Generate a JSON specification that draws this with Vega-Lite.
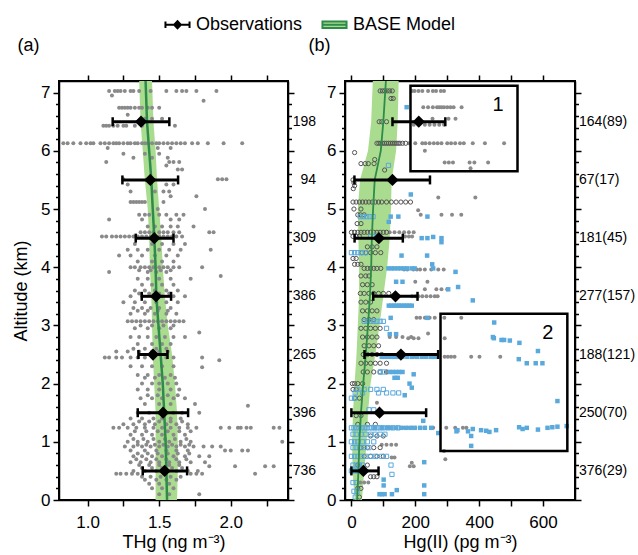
{
"$schema":"https://vega.github.io/schema/vega-lite/v6.json",
"padding":{"left":11,"top":11,"right":4,"bottom":2},
"spacing":-10,
"config":{"font":"Liberation Sans","view":{"stroke":"black","strokeWidth":2},
"axis":{"domainColor":"black","domainWidth":1.5,"tickColor":"black","tickWidth":1.5,"labelColor":"black","titleColor":"black","labelFontSize":17,"titleFontSize":18,"titleFontWeight":"normal","grid":false},
"title":{"anchor":"start","frame":"bounds","fontSize":18,"fontWeight":"normal","offset":19}},
"datasets":{
"modelA":[{"alt":0,"lo":1.475,"hi":1.625,"mid":1.555},{"alt":0.5,"lo":1.475,"hi":1.63,"mid":1.55},{"alt":1,"lo":1.475,"hi":1.63,"mid":1.545},{"alt":1.5,"lo":1.475,"hi":1.625,"mid":1.535},{"alt":2,"lo":1.465,"hi":1.61,"mid":1.525},{"alt":2.5,"lo":1.455,"hi":1.59,"mid":1.51},{"alt":3,"lo":1.45,"hi":1.56,"mid":1.495},{"alt":3.5,"lo":1.445,"hi":1.54,"mid":1.48},{"alt":4,"lo":1.435,"hi":1.525,"mid":1.475},{"alt":4.5,"lo":1.43,"hi":1.515,"mid":1.466},{"alt":5,"lo":1.42,"hi":1.5,"mid":1.455},{"alt":5.5,"lo":1.4,"hi":1.485,"mid":1.445},{"alt":6,"lo":1.385,"hi":1.475,"mid":1.43},{"alt":6.5,"lo":1.37,"hi":1.46,"mid":1.415},{"alt":7.2,"lo":1.36,"hi":1.45,"mid":1.405}],
"modelB":[{"alt":0,"lo":10,"hi":33,"mid":18},{"alt":0.5,"lo":4,"hi":40,"mid":22},{"alt":1,"lo":2,"hi":48,"mid":25},{"alt":1.5,"lo":5,"hi":52,"mid":30},{"alt":2,"lo":10,"hi":60,"mid":37},{"alt":2.5,"lo":16,"hi":75,"mid":45},{"alt":3,"lo":20,"hi":88,"mid":52},{"alt":3.5,"lo":24,"hi":100,"mid":58},{"alt":4,"lo":24,"hi":112,"mid":62},{"alt":4.5,"lo":22,"hi":120,"mid":64},{"alt":5,"lo":20,"hi":124,"mid":68},{"alt":5.5,"lo":27,"hi":126,"mid":73},{"alt":6,"lo":52,"hi":140,"mid":92},{"alt":6.5,"lo":62,"hi":145,"mid":100},{"alt":7.2,"lo":67,"hi":148,"mid":108}],
"obsA":[{"alt":6.5,"mean":1.373,"lo":1.175,"hi":1.571,"n":"198"},{"alt":5.5,"mean":1.438,"lo":1.243,"hi":1.632,"n":"94"},{"alt":4.5,"mean":1.466,"lo":1.336,"hi":1.6,"n":"309"},{"alt":3.5,"mean":1.478,"lo":1.378,"hi":1.583,"n":"386"},{"alt":2.5,"mean":1.457,"lo":1.355,"hi":1.558,"n":"265"},{"alt":1.5,"mean":1.527,"lo":1.35,"hi":1.702,"n":"396"},{"alt":0.5,"mean":1.538,"lo":1.385,"hi":1.695,"n":"736"}],
"obsB":[{"alt":6.5,"mean":211,"lo":128.6,"hi":294,"n":"164(89)"},{"alt":5.5,"mean":128.6,"lo":9.5,"hi":246,"n":"67(17)"},{"alt":4.5,"mean":86,"lo":10,"hi":161,"n":"181(45)"},{"alt":3.5,"mean":138,"lo":68.5,"hi":207,"n":"277(157)"},{"alt":2.5,"mean":155,"lo":41,"hi":271.6,"n":"188(121)"},{"alt":1.5,"mean":88,"lo":0,"hi":234,"n":"250(70)"},{"alt":0.5,"mean":37.5,"lo":0,"hi":85,"n":"376(29)"}],
"boxes":[{"x1":185,"x2":520,"y1":5.65,"y2":7.12,"label":"1"},{"x1":279,"x2":676,"y1":0.84,"y2":3.2,"label":"2"}],
"pa":[
{"x":1.15,"y":7.03},{"x":1.19,"y":7.03},{"x":1.21,"y":7.03},{"x":1.23,"y":7.03},{"x":1.26,"y":7.03},{"x":1.3,"y":7.03},{"x":1.32,"y":7.03},{"x":1.36,"y":7.03},{"x":1.44,"y":7.03},{"x":1.55,"y":7.03},{"x":1.62,"y":7.03},{"x":1.66,"y":7.03},{"x":1.69,"y":7.03},{"x":1.76,"y":7.03},{"x":1.9,"y":7.03},
{"x":1.17,"y":6.95},{"x":1.81,"y":6.86},
{"x":1.22,"y":6.74},{"x":1.24,"y":6.74},{"x":1.26,"y":6.74},{"x":1.28,"y":6.74},{"x":1.3,"y":6.74},{"x":1.33,"y":6.74},{"x":1.36,"y":6.74},{"x":1.38,"y":6.74},{"x":1.42,"y":6.74},{"x":1.45,"y":6.74},{"x":1.5,"y":6.74},
{"x":1.28,"y":6.62},{"x":1.4,"y":6.55},{"x":1.45,"y":6.55},{"x":1.52,"y":6.55},
{"x":1.11,"y":6.43},{"x":1.13,"y":6.43},{"x":1.15,"y":6.43},{"x":1.18,"y":6.43},{"x":1.21,"y":6.43},{"x":1.25,"y":6.43},{"x":1.27,"y":6.43},{"x":1.33,"y":6.43},{"x":1.38,"y":6.43},{"x":1.61,"y":6.43},
{"x":0.83,"y":6.13},{"x":0.86,"y":6.13},{"x":0.9,"y":6.13},{"x":0.95,"y":6.13},{"x":0.99,"y":6.13},{"x":1.02,"y":6.13},{"x":1.04,"y":6.13},{"x":1.09,"y":6.13},{"x":1.12,"y":6.13},{"x":1.15,"y":6.13},{"x":1.18,"y":6.13},{"x":1.2,"y":6.13},{"x":1.22,"y":6.13},{"x":1.25,"y":6.13},{"x":1.28,"y":6.13},{"x":1.3,"y":6.13},{"x":1.33,"y":6.13},{"x":1.35,"y":6.13},{"x":1.38,"y":6.13},{"x":1.4,"y":6.13},{"x":1.42,"y":6.13},{"x":1.45,"y":6.13},{"x":1.48,"y":6.13},{"x":1.5,"y":6.13},{"x":1.53,"y":6.13},{"x":1.56,"y":6.13},{"x":1.59,"y":6.13},{"x":1.62,"y":6.13},{"x":1.65,"y":6.13},{"x":1.68,"y":6.13},{"x":1.73,"y":6.13},{"x":1.77,"y":6.13},{"x":1.84,"y":6.13},{"x":1.95,"y":6.13},{"x":2.08,"y":6.13},
{"x":1.14,"y":6.05},{"x":1.49,"y":6.05},{"x":1.58,"y":6.05},{"x":1.25,"y":5.95},{"x":1.4,"y":5.95},{"x":1.5,"y":5.95},{"x":1.32,"y":5.88},{"x":1.45,"y":5.88},{"x":1.56,"y":5.88},
{"x":1.13,"y":5.81},{"x":1.57,"y":5.81},{"x":1.6,"y":5.81},{"x":1.64,"y":5.81},{"x":1.55,"y":5.75},{"x":1.63,"y":5.68},{"x":1.66,"y":5.68},
{"x":1.25,"y":5.51},{"x":1.91,"y":5.51},{"x":1.94,"y":5.51},{"x":1.97,"y":5.51},{"x":1.28,"y":5.42},{"x":1.55,"y":5.42},{"x":1.6,"y":5.42},
{"x":1.3,"y":5.3},{"x":1.47,"y":5.3},{"x":1.53,"y":5.3},{"x":1.57,"y":5.3},{"x":1.58,"y":5.22},{"x":1.76,"y":5.22},
{"x":1.3,"y":5.12},{"x":1.32,"y":5.12},{"x":1.34,"y":5.12},{"x":1.36,"y":5.12},{"x":1.38,"y":5.12},{"x":1.4,"y":5.12},{"x":1.53,"y":5.12},
{"x":1.49,"y":5.0},{"x":1.82,"y":5.0},
{"x":1.36,"y":4.9},{"x":1.4,"y":4.9},{"x":1.43,"y":4.9},{"x":1.5,"y":4.9},{"x":1.55,"y":4.9},{"x":1.62,"y":4.9},{"x":1.67,"y":4.9},
{"x":1.15,"y":4.82},{"x":1.38,"y":4.82},{"x":1.58,"y":4.82},{"x":1.64,"y":4.82},
{"x":1.42,"y":4.7},{"x":1.47,"y":4.7},{"x":1.52,"y":4.7},{"x":1.58,"y":4.7},{"x":1.63,"y":4.7},{"x":1.74,"y":4.7},
{"x":1.37,"y":4.6},{"x":1.4,"y":4.6},{"x":1.43,"y":4.6},{"x":1.46,"y":4.6},{"x":1.5,"y":4.6},{"x":1.53,"y":4.6},{"x":1.56,"y":4.6},{"x":1.6,"y":4.6},{"x":1.64,"y":4.6},{"x":1.85,"y":4.6},{"x":1.88,"y":4.6},
{"x":1.1,"y":4.53},{"x":1.13,"y":4.53},{"x":1.17,"y":4.53},{"x":1.2,"y":4.53},{"x":1.23,"y":4.53},{"x":1.26,"y":4.53},{"x":1.29,"y":4.53},{"x":1.32,"y":4.53},{"x":1.35,"y":4.53},{"x":1.38,"y":4.53},{"x":1.41,"y":4.53},{"x":1.44,"y":4.53},{"x":1.47,"y":4.53},{"x":1.5,"y":4.53},{"x":1.53,"y":4.53},{"x":1.56,"y":4.53},{"x":1.59,"y":4.53},{"x":1.62,"y":4.53},{"x":1.66,"y":4.53},
{"x":1.33,"y":4.4},{"x":1.45,"y":4.4},{"x":1.52,"y":4.4},{"x":1.6,"y":4.4},{"x":1.68,"y":4.4},
{"x":1.28,"y":4.3},{"x":1.35,"y":4.3},{"x":1.42,"y":4.3},{"x":1.5,"y":4.3},{"x":1.57,"y":4.3},{"x":1.65,"y":4.3},{"x":1.86,"y":4.3},
{"x":1.22,"y":4.2},{"x":1.3,"y":4.2},{"x":1.38,"y":4.2},{"x":1.47,"y":4.2},{"x":1.55,"y":4.2},{"x":1.63,"y":4.2},
{"x":1.35,"y":4.1},{"x":1.45,"y":4.1},{"x":1.52,"y":4.1},{"x":1.6,"y":4.1},
{"x":1.3,"y":4.0},{"x":1.33,"y":4.0},{"x":1.37,"y":4.0},{"x":1.4,"y":4.0},{"x":1.43,"y":4.0},{"x":1.46,"y":4.0},{"x":1.5,"y":4.0},{"x":1.53,"y":4.0},{"x":1.56,"y":4.0},{"x":1.6,"y":4.0},{"x":1.64,"y":4.0},{"x":1.8,"y":4.0},
{"x":1.36,"y":3.95},{"x":1.44,"y":3.95},{"x":1.51,"y":3.95},{"x":1.58,"y":3.95},{"x":1.15,"y":3.92},{"x":1.42,"y":3.92},{"x":1.48,"y":3.92},{"x":1.55,"y":3.92},{"x":1.93,"y":3.85},
{"x":1.35,"y":3.8},{"x":1.42,"y":3.8},{"x":1.5,"y":3.8},{"x":1.58,"y":3.8},{"x":1.72,"y":3.8},
{"x":1.38,"y":3.7},{"x":1.45,"y":3.7},{"x":1.52,"y":3.7},{"x":1.6,"y":3.7},
{"x":1.33,"y":3.6},{"x":1.4,"y":3.6},{"x":1.47,"y":3.6},{"x":1.55,"y":3.6},{"x":1.63,"y":3.6},
{"x":1.36,"y":3.55},{"x":1.43,"y":3.55},{"x":1.5,"y":3.55},{"x":1.57,"y":3.55},
{"x":1.3,"y":3.5},{"x":1.38,"y":3.5},{"x":1.52,"y":3.5},{"x":1.6,"y":3.5},{"x":1.68,"y":3.5},
{"x":1.25,"y":3.4},{"x":1.33,"y":3.4},{"x":1.4,"y":3.4},{"x":1.48,"y":3.4},{"x":1.55,"y":3.4},{"x":1.63,"y":3.4},
{"x":1.32,"y":3.3},{"x":1.38,"y":3.3},{"x":1.44,"y":3.3},{"x":1.5,"y":3.3},{"x":1.58,"y":3.3},
{"x":1.35,"y":3.25},{"x":1.42,"y":3.25},{"x":1.49,"y":3.25},{"x":1.56,"y":3.25},
{"x":1.3,"y":3.2},{"x":1.4,"y":3.2},{"x":1.47,"y":3.2},{"x":1.55,"y":3.2},{"x":1.62,"y":3.2},
{"x":1.28,"y":3.07},{"x":1.31,"y":3.07},{"x":1.34,"y":3.07},{"x":1.37,"y":3.07},{"x":1.4,"y":3.07},{"x":1.43,"y":3.07},{"x":1.46,"y":3.07},{"x":1.49,"y":3.07},{"x":1.52,"y":3.07},{"x":1.55,"y":3.07},{"x":1.58,"y":3.07},{"x":1.61,"y":3.07},{"x":1.64,"y":3.07},{"x":1.67,"y":3.07},
{"x":1.37,"y":3.0},{"x":1.45,"y":3.0},{"x":1.53,"y":3.0},{"x":1.6,"y":3.0},
{"x":1.33,"y":2.95},{"x":1.42,"y":2.95},{"x":1.5,"y":2.95},{"x":1.58,"y":2.95},{"x":1.78,"y":2.88},
{"x":1.3,"y":2.8},{"x":1.36,"y":2.8},{"x":1.42,"y":2.8},{"x":1.48,"y":2.8},{"x":1.54,"y":2.8},{"x":1.6,"y":2.8},{"x":1.68,"y":2.8},
{"x":1.35,"y":2.68},{"x":1.45,"y":2.68},{"x":1.52,"y":2.68},{"x":1.58,"y":2.68},
{"x":1.32,"y":2.6},{"x":1.4,"y":2.6},{"x":1.48,"y":2.6},{"x":1.55,"y":2.6},
{"x":1.2,"y":2.55},{"x":1.28,"y":2.55},{"x":1.36,"y":2.55},{"x":1.45,"y":2.55},{"x":1.5,"y":2.55},{"x":1.56,"y":2.55},
{"x":1.12,"y":2.45},{"x":1.15,"y":2.45},{"x":1.2,"y":2.45},{"x":1.24,"y":2.45},{"x":1.3,"y":2.45},{"x":1.35,"y":2.45},{"x":1.4,"y":2.45},{"x":1.55,"y":2.45},{"x":1.6,"y":2.45},{"x":1.8,"y":2.45},{"x":1.92,"y":2.4},
{"x":1.3,"y":2.3},{"x":1.38,"y":2.3},{"x":1.45,"y":2.3},{"x":1.52,"y":2.3},{"x":1.6,"y":2.3},{"x":1.8,"y":2.28},
{"x":1.35,"y":2.15},{"x":1.42,"y":2.15},{"x":1.5,"y":2.15},{"x":1.58,"y":2.15},
{"x":1.4,"y":2.1},{"x":1.47,"y":2.1},{"x":1.54,"y":2.1},{"x":1.61,"y":2.1},
{"x":1.38,"y":2.0},{"x":1.45,"y":2.0},{"x":1.5,"y":2.0},{"x":1.56,"y":2.0},{"x":1.62,"y":2.0},
{"x":1.35,"y":1.9},{"x":1.42,"y":1.9},{"x":1.5,"y":1.9},{"x":1.58,"y":1.9},{"x":1.64,"y":1.9},
{"x":1.42,"y":1.8},{"x":1.49,"y":1.8},{"x":1.56,"y":1.8},{"x":1.63,"y":1.8},
{"x":1.37,"y":1.75},{"x":1.45,"y":1.75},{"x":1.52,"y":1.75},{"x":1.6,"y":1.75},{"x":1.68,"y":1.75},
{"x":1.4,"y":1.65},{"x":1.5,"y":1.65},{"x":1.58,"y":1.65},{"x":1.75,"y":1.65},{"x":2.12,"y":1.62},
{"x":1.35,"y":1.5},{"x":1.43,"y":1.5},{"x":1.6,"y":1.5},{"x":1.66,"y":1.5},{"x":1.78,"y":1.5},
{"x":1.3,"y":1.4},{"x":1.38,"y":1.4},{"x":1.46,"y":1.4},{"x":1.52,"y":1.4},{"x":1.58,"y":1.4},{"x":1.65,"y":1.4},
{"x":1.36,"y":1.35},{"x":1.43,"y":1.35},{"x":1.5,"y":1.35},{"x":1.58,"y":1.35},{"x":1.66,"y":1.35},
{"x":1.25,"y":1.3},{"x":1.32,"y":1.3},{"x":1.4,"y":1.3},{"x":1.47,"y":1.3},{"x":1.55,"y":1.3},{"x":1.62,"y":1.3},{"x":1.7,"y":1.3},
{"x":1.18,"y":1.24},{"x":1.22,"y":1.24},{"x":1.28,"y":1.24},{"x":1.34,"y":1.24},{"x":1.4,"y":1.24},{"x":1.46,"y":1.24},{"x":1.52,"y":1.24},{"x":1.58,"y":1.24},{"x":1.64,"y":1.24},{"x":1.7,"y":1.24},{"x":1.76,"y":1.24},{"x":1.93,"y":1.24},{"x":1.99,"y":1.24},{"x":2.05,"y":1.24},{"x":2.07,"y":1.24},{"x":2.11,"y":1.24},{"x":2.14,"y":1.24},{"x":2.3,"y":1.24},{"x":2.34,"y":1.24},
{"x":1.33,"y":1.18},{"x":1.41,"y":1.18},{"x":1.49,"y":1.18},{"x":1.56,"y":1.18},{"x":1.64,"y":1.18},{"x":1.72,"y":1.18},
{"x":1.3,"y":1.12},{"x":1.38,"y":1.12},{"x":1.45,"y":1.12},{"x":1.52,"y":1.12},{"x":1.6,"y":1.12},{"x":1.68,"y":1.12},
{"x":1.32,"y":1.05},{"x":1.39,"y":1.05},{"x":1.46,"y":1.05},{"x":1.54,"y":1.05},{"x":1.61,"y":1.05},{"x":1.69,"y":1.05},
{"x":1.28,"y":1.0},{"x":1.35,"y":1.0},{"x":1.42,"y":1.0},{"x":1.5,"y":1.0},{"x":1.57,"y":1.0},{"x":1.65,"y":1.0},{"x":1.72,"y":1.0},{"x":2.36,"y":1.0},
{"x":1.35,"y":0.95},{"x":1.41,"y":0.95},{"x":1.47,"y":0.95},{"x":1.53,"y":0.95},{"x":1.59,"y":0.95},{"x":1.65,"y":0.95},{"x":1.71,"y":0.95},
{"x":1.26,"y":0.92},{"x":1.32,"y":0.92},{"x":1.38,"y":0.92},{"x":1.44,"y":0.92},{"x":1.5,"y":0.92},{"x":1.56,"y":0.92},{"x":1.62,"y":0.92},{"x":1.68,"y":0.92},{"x":1.74,"y":0.92},{"x":1.81,"y":0.92},{"x":1.87,"y":0.92},{"x":1.93,"y":0.92},
{"x":1.3,"y":0.85},{"x":1.4,"y":0.85},{"x":1.48,"y":0.85},{"x":1.55,"y":0.85},{"x":1.62,"y":0.85},{"x":1.7,"y":0.85},{"x":1.96,"y":0.85},{"x":2.0,"y":0.85},{"x":2.08,"y":0.85},{"x":2.12,"y":0.85},
{"x":1.35,"y":0.8},{"x":1.42,"y":0.8},{"x":1.49,"y":0.8},{"x":1.56,"y":0.8},{"x":1.63,"y":0.8},{"x":1.71,"y":0.8},
{"x":1.32,"y":0.75},{"x":1.38,"y":0.75},{"x":1.45,"y":0.75},{"x":1.52,"y":0.75},{"x":1.6,"y":0.75},{"x":1.68,"y":0.75},{"x":1.78,"y":0.75},{"x":1.85,"y":0.75},
{"x":1.34,"y":0.7},{"x":1.41,"y":0.7},{"x":1.48,"y":0.7},{"x":1.55,"y":0.7},{"x":1.62,"y":0.7},{"x":1.69,"y":0.7},
{"x":1.3,"y":0.65},{"x":1.37,"y":0.65},{"x":1.44,"y":0.65},{"x":1.5,"y":0.65},{"x":1.57,"y":0.65},{"x":1.64,"y":0.65},{"x":1.72,"y":0.65},{"x":1.82,"y":0.65},
{"x":1.36,"y":0.6},{"x":1.43,"y":0.6},{"x":1.5,"y":0.6},{"x":1.57,"y":0.6},{"x":1.64,"y":0.6},
{"x":1.85,"y":0.58},{"x":2.03,"y":0.58},{"x":2.24,"y":0.58},{"x":2.3,"y":0.58},
{"x":1.38,"y":0.55},{"x":1.45,"y":0.55},{"x":1.52,"y":0.55},{"x":1.59,"y":0.55},{"x":1.66,"y":0.55},
{"x":1.32,"y":0.5},{"x":1.4,"y":0.5},{"x":1.48,"y":0.5},{"x":1.62,"y":0.5},{"x":1.7,"y":0.5},{"x":1.77,"y":0.5},
{"x":1.2,"y":0.45},{"x":1.23,"y":0.45},{"x":1.27,"y":0.45},{"x":1.31,"y":0.45},{"x":1.35,"y":0.45},{"x":1.72,"y":0.45},{"x":1.76,"y":0.45},{"x":1.8,"y":0.45},{"x":2.17,"y":0.45},
{"x":1.38,"y":0.4},{"x":1.44,"y":0.4},{"x":1.51,"y":0.4},{"x":1.58,"y":0.4},{"x":1.65,"y":0.4},
{"x":1.4,"y":0.35},{"x":1.48,"y":0.35},{"x":1.55,"y":0.35},{"x":1.62,"y":0.35},
{"x":1.43,"y":0.28},{"x":1.5,"y":0.28},{"x":1.57,"y":0.28},
{"x":1.45,"y":0.2},{"x":1.52,"y":0.2},{"x":1.6,"y":0.2},
{"x":1.5,"y":0.1},{"x":1.57,"y":0.1},{"x":1.78,"y":0.1}],
"gc":[
{"x":190,"y":7.03},{"x":198,"y":7.03},{"x":210,"y":7.03},{"x":222,"y":7.03},{"x":240,"y":7.03},{"x":255,"y":7.03},{"x":265,"y":7.03},{"x":280,"y":7.03},{"x":290,"y":7.03},
{"x":225,"y":6.75},{"x":240,"y":6.75},{"x":255,"y":6.75},{"x":268,"y":6.75},{"x":275,"y":6.75},{"x":282,"y":6.75},{"x":290,"y":6.75},{"x":300,"y":6.75},{"x":310,"y":6.75},{"x":320,"y":6.75},{"x":345,"y":6.75},
{"x":254,"y":6.55},{"x":304,"y":6.55},{"x":326,"y":6.55},
{"x":195,"y":6.45},{"x":210,"y":6.45},{"x":230,"y":6.45},{"x":245,"y":6.45},{"x":260,"y":6.45},{"x":275,"y":6.45},{"x":290,"y":6.45},
{"x":180,"y":6.13},{"x":200,"y":6.13},{"x":222,"y":6.13},{"x":232,"y":6.13},{"x":245,"y":6.13},{"x":258,"y":6.13},{"x":270,"y":6.13},{"x":282,"y":6.13},{"x":300,"y":6.13},{"x":312,"y":6.13},{"x":325,"y":6.13},{"x":340,"y":6.13},{"x":352,"y":6.13},{"x":380,"y":6.13},{"x":418,"y":6.13},{"x":478,"y":6.13},
{"x":230,"y":6.0},
{"x":292,"y":5.8},{"x":305,"y":5.8},{"x":318,"y":5.8},{"x":370,"y":5.8},{"x":385,"y":5.8},{"x":428,"y":5.8},{"x":373,"y":5.7},
{"x":272,"y":5.2},{"x":388,"y":5.2},{"x":209,"y":4.98},{"x":217,"y":4.9},{"x":282,"y":4.9},{"x":315,"y":4.9},{"x":344,"y":4.9},
{"x":120,"y":4.6},{"x":135,"y":4.6},{"x":150,"y":4.6},{"x":165,"y":4.6},{"x":180,"y":4.6},{"x":195,"y":4.6},{"x":168,"y":4.53},{"x":180,"y":4.53},{"x":190,"y":4.53},
{"x":165,"y":3.96},{"x":175,"y":3.96},{"x":194,"y":3.96},{"x":205,"y":3.96},{"x":215,"y":3.96},{"x":230,"y":3.96},{"x":250,"y":3.96},{"x":272,"y":3.96},{"x":289,"y":3.96},
{"x":200,"y":3.75},{"x":238,"y":3.75},{"x":230,"y":3.62},{"x":266,"y":3.62},{"x":282,"y":3.62},{"x":300,"y":3.62},
{"x":190,"y":3.5},{"x":200,"y":3.5},{"x":210,"y":3.5},{"x":222,"y":3.5},{"x":235,"y":3.5},{"x":248,"y":3.5},{"x":261,"y":3.5},{"x":270,"y":3.5},
{"x":150,"y":3.34},{"x":170,"y":3.34},
{"x":204,"y":3.13},{"x":215,"y":3.13},{"x":230,"y":3.13},{"x":245,"y":3.13},{"x":261,"y":3.13},{"x":291,"y":3.13},{"x":344,"y":3.13},
{"x":240,"y":2.86},{"x":178,"y":2.78},{"x":195,"y":2.78},{"x":210,"y":2.78},{"x":292,"y":2.78},{"x":120,"y":2.8},{"x":140,"y":2.8},{"x":160,"y":2.8},{"x":187,"y":2.8},
{"x":200,"y":2.46},{"x":230,"y":2.46},{"x":260,"y":2.46},{"x":292,"y":2.46},{"x":302,"y":2.46},{"x":312,"y":2.46},{"x":323,"y":2.46},{"x":375,"y":2.46},{"x":401,"y":2.46},{"x":466,"y":2.46},
{"x":111,"y":2.2},{"x":126,"y":2.2},{"x":80,"y":1.67},
{"x":115,"y":1.24},{"x":126,"y":1.24},{"x":140,"y":1.24},{"x":160,"y":1.24},{"x":175,"y":1.24},{"x":189,"y":1.24},{"x":200,"y":1.24},{"x":215,"y":1.24},{"x":229,"y":1.24},{"x":256,"y":1.24},{"x":297,"y":1.24},{"x":325,"y":1.24},{"x":349,"y":1.24},{"x":360,"y":1.24},
{"x":95,"y":0.95},{"x":110,"y":0.95},{"x":125,"y":0.95},{"x":140,"y":0.95},{"x":290,"y":0.84},{"x":126,"y":0.73},{"x":135,"y":0.73},{"x":294,"y":0.7},{"x":189,"y":0.64},{"x":183,"y":0.58},{"x":195,"y":0.58},{"x":28,"y":0.3},{"x":40,"y":0.3},{"x":53,"y":0.3}],
"go":[
{"x":90,"y":7.03},{"x":97,"y":7.03},{"x":104,"y":7.03},{"x":112,"y":7.03},{"x":120,"y":7.03},{"x":128,"y":7.03},{"x":124,"y":6.9},{"x":131,"y":6.9},{"x":87,"y":6.5},{"x":95,"y":6.5},{"x":110,"y":6.5},
{"x":80,"y":6.13},{"x":86,"y":6.13},{"x":92,"y":6.13},{"x":98,"y":6.13},{"x":104,"y":6.13},{"x":110,"y":6.13},{"x":116,"y":6.13},{"x":122,"y":6.13},{"x":128,"y":6.13},{"x":134,"y":6.13},{"x":140,"y":6.13},{"x":146,"y":6.13},{"x":152,"y":6.13},{"x":160,"y":6.13},{"x":170,"y":6.13},
{"x":10,"y":5.97},{"x":73,"y":5.85},{"x":30,"y":5.78},{"x":43,"y":5.78},{"x":53,"y":5.78},{"x":71,"y":5.78},{"x":104,"y":5.67},{"x":5,"y":5.5},{"x":8,"y":5.45},{"x":10,"y":5.4},{"x":6,"y":5.35},
{"x":5,"y":5.12},{"x":15,"y":5.12},{"x":25,"y":5.12},{"x":35,"y":5.12},{"x":45,"y":5.12},{"x":55,"y":5.12},{"x":65,"y":5.12},{"x":75,"y":5.12},{"x":85,"y":5.12},{"x":95,"y":5.12},{"x":110,"y":5.12},{"x":125,"y":5.12},{"x":140,"y":5.12},{"x":155,"y":5.12},{"x":170,"y":5.12},{"x":185,"y":5.12},
{"x":8,"y":5.0},{"x":30,"y":5.0},{"x":20,"y":4.9},{"x":28,"y":4.9},{"x":40,"y":4.9},{"x":18,"y":4.75},{"x":30,"y":4.75},
{"x":0,"y":4.6},{"x":10,"y":4.6},{"x":20,"y":4.6},{"x":30,"y":4.6},{"x":40,"y":4.6},{"x":50,"y":4.6},{"x":60,"y":4.6},{"x":70,"y":4.6},{"x":80,"y":4.6},{"x":90,"y":4.6},{"x":100,"y":4.6},{"x":110,"y":4.6},
{"x":5,"y":4.53},{"x":15,"y":4.53},{"x":25,"y":4.53},{"x":50,"y":4.35},{"x":65,"y":4.35},{"x":80,"y":4.35},
{"x":33,"y":4.25},{"x":45,"y":4.25},{"x":60,"y":4.25},{"x":75,"y":4.25},{"x":92,"y":4.25},{"x":5,"y":4.15},{"x":15,"y":4.15},{"x":10,"y":4.05},{"x":20,"y":4.05},{"x":30,"y":4.05},
{"x":40,"y":3.98},{"x":50,"y":3.98},{"x":60,"y":3.98},{"x":70,"y":3.98},{"x":80,"y":3.98},{"x":92,"y":3.98},
{"x":30,"y":3.85},{"x":45,"y":3.85},{"x":55,"y":3.85},{"x":35,"y":3.7},{"x":50,"y":3.7},{"x":65,"y":3.7},
{"x":28,"y":3.55},{"x":40,"y":3.55},{"x":55,"y":3.55},{"x":70,"y":3.55},{"x":85,"y":3.55},{"x":100,"y":3.55},{"x":117,"y":3.55},
{"x":30,"y":3.4},{"x":45,"y":3.4},{"x":60,"y":3.4},{"x":35,"y":3.25},{"x":50,"y":3.25},{"x":65,"y":3.25},{"x":80,"y":3.25},{"x":40,"y":3.1},{"x":55,"y":3.1},{"x":70,"y":3.1},
{"x":30,"y":2.95},{"x":45,"y":2.95},{"x":60,"y":2.95},{"x":75,"y":2.95},{"x":90,"y":2.95},{"x":35,"y":2.8},{"x":50,"y":2.8},{"x":65,"y":2.8},{"x":80,"y":2.8},
{"x":40,"y":2.65},{"x":55,"y":2.65},{"x":70,"y":2.65},{"x":85,"y":2.65},{"x":37,"y":2.5},{"x":50,"y":2.5},{"x":65,"y":2.5},{"x":80,"y":2.5},{"x":95,"y":2.5},
{"x":30,"y":2.35},{"x":45,"y":2.35},{"x":60,"y":2.35},{"x":75,"y":2.35},{"x":90,"y":2.35},{"x":110,"y":2.35},{"x":37,"y":2.2},{"x":50,"y":2.2},{"x":70,"y":2.2},{"x":90,"y":2.2},{"x":110,"y":2.2},
{"x":3,"y":2.0},{"x":10,"y":2.0},{"x":20,"y":2.0},{"x":35,"y":2.0},{"x":5,"y":1.9},{"x":15,"y":1.9},{"x":10,"y":1.75},{"x":25,"y":1.75},{"x":15,"y":1.45},{"x":30,"y":1.45},
{"x":20,"y":1.3},{"x":50,"y":1.3},{"x":75,"y":1.3},{"x":60,"y":1.1},{"x":80,"y":1.1},{"x":100,"y":1.1},{"x":30,"y":0.9},{"x":50,"y":0.9},{"x":70,"y":0.9},{"x":90,"y":0.9},
{"x":40,"y":0.75},{"x":60,"y":0.75},{"x":80,"y":0.75},{"x":100,"y":0.75},{"x":20,"y":0.6},{"x":50,"y":0.6},{"x":60,"y":0.4},{"x":70,"y":0.4},{"x":80,"y":0.4},{"x":20,"y":0.2},{"x":30,"y":0.2},{"x":25,"y":0.05}],
"bs":[
{"x":173,"y":6.75},{"x":186,"y":5.25},{"x":123,"y":4.87},{"x":147,"y":4.87},{"x":238,"y":4.87},{"x":117,"y":4.78},
{"x":220,"y":4.5},{"x":238,"y":4.5},{"x":256,"y":4.52},{"x":282,"y":4.5},{"x":282,"y":4.43},{"x":157,"y":4.2},{"x":237,"y":4.2},{"x":253,"y":4.05},
{"x":116,"y":3.98},{"x":126,"y":3.98},{"x":135,"y":3.98},{"x":145,"y":3.98},{"x":155,"y":3.98},{"x":165,"y":3.98},{"x":175,"y":3.98},{"x":189,"y":3.98},{"x":198,"y":3.98},{"x":256,"y":3.98},
{"x":326,"y":3.92},{"x":140,"y":3.75},{"x":160,"y":3.75},{"x":334,"y":3.66},{"x":303,"y":3.62},{"x":380,"y":3.43},
{"x":117,"y":3.34},{"x":125,"y":3.34},{"x":133,"y":3.34},{"x":141,"y":3.34},{"x":149,"y":3.34},{"x":157,"y":3.34},{"x":165,"y":3.34},{"x":173,"y":3.34},{"x":181,"y":3.34},{"x":189,"y":3.34},
{"x":123,"y":3.13},{"x":238,"y":3.13},{"x":447,"y":3.05},{"x":120,"y":2.85},{"x":140,"y":2.85},{"x":443,"y":2.8},{"x":446,"y":2.78},{"x":470,"y":2.75},{"x":478,"y":2.75},{"x":496,"y":2.74},{"x":526,"y":2.7},{"x":584,"y":2.56},
{"x":95,"y":2.46},{"x":105,"y":2.46},{"x":115,"y":2.46},{"x":125,"y":2.46},{"x":135,"y":2.46},{"x":145,"y":2.46},{"x":160,"y":2.46},{"x":175,"y":2.46},{"x":190,"y":2.46},{"x":205,"y":2.46},{"x":220,"y":2.46},{"x":235,"y":2.46},{"x":250,"y":2.46},{"x":261,"y":2.46},
{"x":524,"y":2.42},{"x":549,"y":2.35},{"x":577,"y":2.35},{"x":598,"y":2.35},
{"x":120,"y":2.2},{"x":130,"y":2.2},{"x":140,"y":2.2},{"x":150,"y":2.2},{"x":160,"y":2.2},{"x":195,"y":2.16},{"x":135,"y":2.1},{"x":145,"y":2.1},{"x":182,"y":2.0},{"x":189,"y":1.93},{"x":167,"y":1.8},{"x":645,"y":1.7},{"x":225,"y":1.36},
{"x":74,"y":1.24},{"x":95,"y":1.24},{"x":110,"y":1.24},{"x":125,"y":1.24},{"x":140,"y":1.24},{"x":155,"y":1.24},{"x":170,"y":1.24},{"x":185,"y":1.24},{"x":198,"y":1.24},{"x":215,"y":1.24},{"x":230,"y":1.24},{"x":250,"y":1.24},
{"x":272,"y":1.15},{"x":332,"y":1.2},{"x":365,"y":1.18},{"x":375,"y":1.1},{"x":380,"y":1.22},{"x":406,"y":1.2},{"x":422,"y":1.19},{"x":432,"y":1.17},{"x":453,"y":1.2},{"x":525,"y":1.25},{"x":536,"y":1.22},{"x":549,"y":1.24},{"x":584,"y":1.21},{"x":614,"y":1.24},{"x":629,"y":1.25},{"x":645,"y":1.26},{"x":674,"y":1.27},
{"x":329,"y":1.18},{"x":375,"y":0.93},{"x":228,"y":0.65},{"x":101,"y":0.35},{"x":101,"y":0.25},{"x":228,"y":0.25},{"x":142,"y":0.17},{"x":88,"y":0.1},{"x":95,"y":0.1},{"x":104,"y":0.1},{"x":127,"y":0.1},{"x":228,"y":0.1}],
"bo":[
{"x":116,"y":5.75},{"x":28,"y":4.87},{"x":38,"y":4.87},{"x":48,"y":4.87},{"x":58,"y":4.87},{"x":68,"y":4.87},{"x":60,"y":4.53},{"x":70,"y":4.53},{"x":80,"y":4.53},
{"x":0,"y":4.25},{"x":10,"y":4.25},{"x":20,"y":4.25},{"x":30,"y":4.25},{"x":45,"y":4.25},
{"x":40,"y":3.07},{"x":50,"y":3.07},{"x":60,"y":3.07},{"x":70,"y":3.07},{"x":80,"y":3.07},{"x":90,"y":3.07},{"x":100,"y":3.07},{"x":110,"y":2.95},{"x":90,"y":2.2},{"x":100,"y":2.2},
{"x":20,"y":1.9},{"x":40,"y":1.9},{"x":60,"y":1.9},{"x":80,"y":1.9},{"x":100,"y":1.9},{"x":12,"y":1.84},{"x":35,"y":1.84},{"x":85,"y":1.84},{"x":110,"y":1.84},{"x":130,"y":1.84},{"x":148,"y":1.84},
{"x":0,"y":1.75},{"x":10,"y":1.75},{"x":55,"y":1.55},{"x":70,"y":1.55},
{"x":0,"y":1.24},{"x":8,"y":1.24},{"x":16,"y":1.24},{"x":24,"y":1.24},{"x":32,"y":1.24},{"x":40,"y":1.24},{"x":48,"y":1.24},{"x":56,"y":1.24},{"x":64,"y":1.24},{"x":72,"y":1.24},{"x":80,"y":1.24},{"x":90,"y":1.24},{"x":100,"y":1.24},{"x":115,"y":1.24},{"x":130,"y":1.24},{"x":146,"y":1.24},
{"x":5,"y":1.13},{"x":15,"y":1.13},{"x":30,"y":1.13},{"x":45,"y":1.13},{"x":60,"y":1.13},{"x":75,"y":1.13},{"x":90,"y":1.13},{"x":105,"y":1.13},
{"x":0,"y":1.0},{"x":10,"y":1.0},{"x":20,"y":1.0},{"x":35,"y":1.0},{"x":50,"y":1.0},{"x":70,"y":1.0},{"x":5,"y":0.9},{"x":15,"y":0.9},{"x":25,"y":0.9},{"x":40,"y":0.9},{"x":55,"y":0.9},
{"x":0,"y":0.75},{"x":10,"y":0.75},{"x":20,"y":0.75},{"x":30,"y":0.75},{"x":45,"y":0.75},{"x":60,"y":0.75},{"x":75,"y":0.75},{"x":95,"y":0.75},{"x":110,"y":0.75},
{"x":5,"y":0.6},{"x":15,"y":0.6},{"x":25,"y":0.6},{"x":35,"y":0.6},{"x":124,"y":0.6},{"x":0,"y":0.5},{"x":10,"y":0.5},{"x":20,"y":0.5},{"x":127,"y":0.44},{"x":5,"y":0.3},{"x":15,"y":0.3},{"x":8,"y":0.15},{"x":18,"y":0.15},{"x":12,"y":0.05}],
"legend":[{"leg":"Observations"},{"leg":"BASE Model"}]
},
"hconcat":[
{"width":229,"height":419,
"title":{"text":"(a)","dx":5},
"resolve":{"axis":{"x":"independent","y":"independent"}},
"layer":[
{"data":{"name":"modelA"},"mark":{"type":"area","orient":"horizontal","color":"#aadc8f"},
"encoding":{"y":{"field":"alt","type":"quantitative","scale":{"domain":[0,7.2],"nice":false,"zero":false},"axis":null},
"x":{"field":"lo","type":"quantitative","scale":{"domain":[0.8,2.4],"nice":false,"zero":false},"axis":null},"x2":{"field":"hi"}}},
{"data":{"name":"pa"},"mark":{"type":"point","filled":true,"color":"#8a8a8a","opacity":1,"size":16},
"encoding":{"x":{"field":"x","type":"quantitative","scale":{"domain":[0.8,2.4],"nice":false,"zero":false},
"axis":{"orient":"bottom","values":[1,1.25,1.5,1.75,2,2.25],"labelExpr":"datum.value==1?'1.0':datum.value==1.5?'1.5':datum.value==2?'2.0':''","tickSize":6,"labelPadding":8,"title":"THg (ng m⁻³)","titlePadding":3}},
"y":{"field":"y","type":"quantitative","scale":{"domain":[0,7.2],"nice":false,"zero":false},
"axis":{"orient":"left","values":[0,0.2,0.4,0.6,0.8,1,1.2,1.4,1.6,1.8,2,2.2,2.4,2.6,2.8,3,3.2,3.4,3.6,3.8,4,4.2,4.4,4.6,4.8,5,5.2,5.4,5.6,5.8,6,6.2,6.4,6.6,6.8,7],"labelExpr":"abs(datum.value-round(datum.value))<0.01?''+round(datum.value):''","tickSize":{"condition":{"test":"abs(datum.value-round(datum.value))<0.01","value":6},"value":3.5},"labelPadding":3,"title":"Altitude (km)","titlePadding":10}}}},
{"data":{"name":"modelA"},"mark":{"type":"line","color":"#2e8b4a","strokeWidth":2.5},
"encoding":{"y":{"field":"alt","type":"quantitative","axis":null},"x":{"field":"mid","type":"quantitative","axis":null},"order":{"field":"alt","type":"quantitative"}}},
{"data":{"name":"obsA"},"mark":{"type":"rule","color":"black","strokeWidth":3},
"encoding":{"y":{"field":"alt","type":"quantitative",
"axis":{"orient":"right","values":[0,0.2,0.4,0.6,0.8,1,1.2,1.4,1.6,1.8,2,2.2,2.4,2.6,2.8,3,3.2,3.4,3.6,3.8,4,4.2,4.4,4.6,4.8,5,5.2,5.4,5.6,5.8,6,6.2,6.4,6.6,6.8,7],"labels":false,"title":null,"tickSize":{"condition":{"test":"abs(datum.value-round(datum.value))<0.01","value":6},"value":3.5}}},
"x":{"field":"lo","type":"quantitative","axis":{"orient":"top","values":[1,1.25,1.5,1.75,2,2.25],"labels":false,"title":null,"tickSize":6}},"x2":{"field":"hi"}}},
{"data":{"name":"obsA"},"mark":{"type":"tick","orient":"vertical","color":"black","thickness":2.5,"size":9,"opacity":1},
"encoding":{"y":{"field":"alt","type":"quantitative","axis":null},"x":{"field":"lo","type":"quantitative","axis":null}}},
{"data":{"name":"obsA"},"mark":{"type":"tick","orient":"vertical","color":"black","thickness":2.5,"size":9,"opacity":1},
"encoding":{"y":{"field":"alt","type":"quantitative","axis":null},"x":{"field":"hi","type":"quantitative","axis":null}}},
{"data":{"name":"obsA"},"mark":{"type":"point","shape":"diamond","filled":true,"color":"black","opacity":1,"size":150},
"encoding":{"y":{"field":"alt","type":"quantitative","axis":null},"x":{"field":"mean","type":"quantitative","axis":null}}},
{"data":{"name":"obsA"},"mark":{"type":"text","align":"right","baseline":"middle","dx":28,"fontSize":14,"color":"black"},
"encoding":{"y":{"field":"alt","type":"quantitative","axis":null},"x":{"datum":2.4,"type":"quantitative","axis":null},"text":{"field":"n"}}},
{"data":{"name":"legend"},"mark":{"type":"point","filled":true,"clip":true,"opacity":1,"strokeWidth":2},
"encoding":{"y":{"datum":-5,"type":"quantitative","axis":null},"x":{"datum":0,"type":"quantitative","axis":null},
"shape":{"field":"leg","type":"nominal","scale":{"domain":["Observations","BASE Model"],"range":["M-1,0H1M-1,-0.28V0.28M1,-0.28V0.28M0,-0.3L0.28,0L0,0.3L-0.28,0Z","M-1,-0.27H1V0.27H-1ZM-1,0H1"]},
"legend":{"orient":"none","legendX":105,"legendY":-70,"direction":"horizontal","title":null,"labelFontSize":18,"symbolSize":580,"symbolStrokeWidth":2,"columnPadding":15,"labelOffset":5}},
"fill":{"field":"leg","type":"nominal","scale":{"domain":["Observations","BASE Model"],"range":["black","#aadc8f"]},
"legend":{"orient":"none","legendX":105,"legendY":-70,"direction":"horizontal","title":null,"labelFontSize":18,"symbolSize":580,"symbolStrokeWidth":2,"columnPadding":15,"labelOffset":5}},
"stroke":{"field":"leg","type":"nominal","scale":{"domain":["Observations","BASE Model"],"range":["black","#2e8b4a"]},
"legend":{"orient":"none","legendX":105,"legendY":-70,"direction":"horizontal","title":null,"labelFontSize":18,"symbolSize":580,"symbolStrokeWidth":2,"columnPadding":15,"labelOffset":5}}}}
]},
{"width":230,"height":419,
"title":{"text":"(b)","dx":-18},
"resolve":{"axis":{"x":"independent","y":"independent"}},
"layer":[
{"data":{"name":"modelB"},"mark":{"type":"area","orient":"horizontal","color":"#aadc8f"},
"encoding":{"y":{"field":"alt","type":"quantitative","scale":{"domain":[0,7.2],"nice":false,"zero":false},"axis":null},
"x":{"field":"lo","type":"quantitative","scale":{"domain":[-20,700],"nice":false,"zero":false},"axis":null},"x2":{"field":"hi"}}},
{"data":{"name":"gc"},"mark":{"type":"point","filled":true,"color":"#8a8a8a","opacity":1,"size":16},
"encoding":{"x":{"field":"x","type":"quantitative","scale":{"domain":[-20,700],"nice":false,"zero":false},
"axis":{"orient":"bottom","values":[0,100,200,300,400,500,600],"labelExpr":"datum.value%200==0?''+datum.value:''","tickSize":6,"labelPadding":8,"title":"Hg(II) (pg m⁻³)","titlePadding":3}},
"y":{"field":"y","type":"quantitative","scale":{"domain":[0,7.2],"nice":false,"zero":false},
"axis":{"orient":"left","values":[0,0.2,0.4,0.6,0.8,1,1.2,1.4,1.6,1.8,2,2.2,2.4,2.6,2.8,3,3.2,3.4,3.6,3.8,4,4.2,4.4,4.6,4.8,5,5.2,5.4,5.6,5.8,6,6.2,6.4,6.6,6.8,7],"labelExpr":"abs(datum.value-round(datum.value))<0.01?''+round(datum.value):''","tickSize":{"condition":{"test":"abs(datum.value-round(datum.value))<0.01","value":6},"value":3.5},"labelPadding":3,"title":null}}}},
{"data":{"name":"go"},"mark":{"type":"point","filled":false,"color":"#555555","opacity":1,"size":18,"strokeWidth":1},
"encoding":{"x":{"field":"x","type":"quantitative","axis":null},"y":{"field":"y","type":"quantitative","axis":null}}},
{"data":{"name":"bo"},"mark":{"type":"square","filled":false,"color":"#5aa9dc","opacity":1,"size":18,"strokeWidth":1},
"encoding":{"x":{"field":"x","type":"quantitative","axis":null},"y":{"field":"y","type":"quantitative","axis":null}}},
{"data":{"name":"bs"},"mark":{"type":"square","filled":true,"color":"#5aa9dc","opacity":1,"size":20},
"encoding":{"x":{"field":"x","type":"quantitative","axis":null},"y":{"field":"y","type":"quantitative","axis":null}}},
{"data":{"name":"modelB"},"mark":{"type":"line","color":"#2e8b4a","strokeWidth":1.8},
"encoding":{"y":{"field":"alt","type":"quantitative","axis":null},"x":{"field":"mid","type":"quantitative","axis":null},"order":{"field":"alt","type":"quantitative"}}},
{"data":{"name":"boxes"},"mark":{"type":"rect","fill":"transparent","stroke":"black","strokeWidth":2.5},
"encoding":{"x":{"field":"x1","type":"quantitative","axis":null},"x2":{"field":"x2"},"y":{"field":"y1","type":"quantitative","axis":null},"y2":{"field":"y2"}}},
{"data":{"name":"boxes"},"mark":{"type":"text","align":"right","baseline":"top","dx":-14,"dy":9,"fontSize":20,"color":"black"},
"encoding":{"x":{"field":"x2","type":"quantitative","axis":null},"y":{"field":"y2","type":"quantitative","axis":null},"text":{"field":"label"}}},
{"data":{"name":"obsB"},"mark":{"type":"rule","color":"black","strokeWidth":3},
"encoding":{"y":{"field":"alt","type":"quantitative",
"axis":{"orient":"right","values":[0,0.2,0.4,0.6,0.8,1,1.2,1.4,1.6,1.8,2,2.2,2.4,2.6,2.8,3,3.2,3.4,3.6,3.8,4,4.2,4.4,4.6,4.8,5,5.2,5.4,5.6,5.8,6,6.2,6.4,6.6,6.8,7],"labels":false,"title":null,"tickSize":{"condition":{"test":"abs(datum.value-round(datum.value))<0.01","value":6},"value":3.5}}},
"x":{"field":"lo","type":"quantitative","axis":{"orient":"top","values":[0,100,200,300,400,500,600],"labels":false,"title":null,"tickSize":6}},"x2":{"field":"hi"}}},
{"data":{"name":"obsB"},"mark":{"type":"tick","orient":"vertical","color":"black","thickness":2.5,"size":9,"opacity":1},
"encoding":{"y":{"field":"alt","type":"quantitative","axis":null},"x":{"field":"lo","type":"quantitative","axis":null}}},
{"data":{"name":"obsB"},"mark":{"type":"tick","orient":"vertical","color":"black","thickness":2.5,"size":9,"opacity":1},
"encoding":{"y":{"field":"alt","type":"quantitative","axis":null},"x":{"field":"hi","type":"quantitative","axis":null}}},
{"data":{"name":"obsB"},"mark":{"type":"point","shape":"diamond","filled":true,"color":"black","opacity":1,"size":150},
"encoding":{"y":{"field":"alt","type":"quantitative","axis":null},"x":{"field":"mean","type":"quantitative","axis":null}}},
{"data":{"name":"obsB"},"mark":{"type":"text","align":"left","baseline":"middle","dx":4,"fontSize":14,"color":"black"},
"encoding":{"y":{"field":"alt","type":"quantitative","axis":null},"x":{"datum":700,"type":"quantitative","axis":null},"text":{"field":"n"}}}
]}
]
}
